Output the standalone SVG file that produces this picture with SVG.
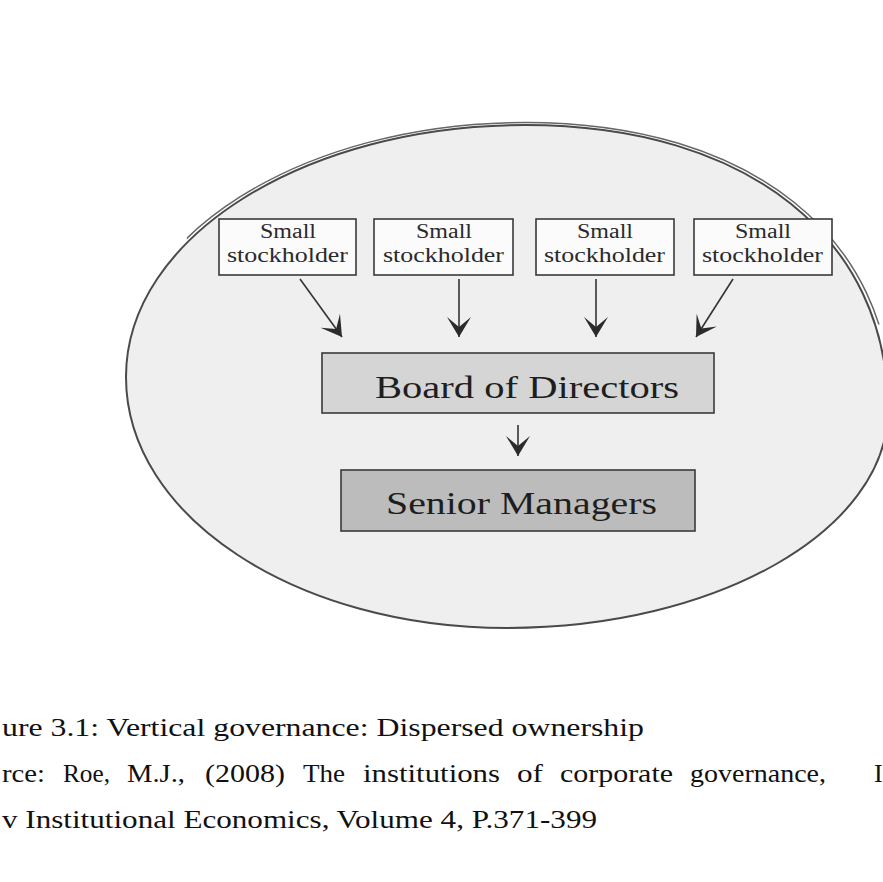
<svg xmlns="http://www.w3.org/2000/svg" width="883" height="882" viewBox="0 0 883 882">
  <style>
    .box { fill: #fbfbfb; stroke: #3a3a3a; stroke-width: 1.6; }
    .board { fill: #d5d5d5; stroke: #3a3a3a; stroke-width: 1.6; }
    .senior { fill: #bcbcbc; stroke: #3a3a3a; stroke-width: 1.6; }
    .small { font-family: "Liberation Serif", "Times New Roman", serif; font-size: 20px; fill: #2a2a2a; }
    .big { font-family: "Liberation Serif", "Times New Roman", serif; font-size: 32px; fill: #1e1e1e; }
    .cap { font-family: "Liberation Serif", "Times New Roman", serif; font-size: 26px; fill: #111; }
    .conn { stroke: #333; stroke-width: 1.6; fill: none; marker-end: url(#arrow); }
  </style>
  <defs>
    <marker id="arrow" markerUnits="userSpaceOnUse" viewBox="-21 -13 22 26" refX="0" refY="0" markerWidth="22" markerHeight="26" orient="auto">
      <path d="M0,0 L-20,-12 L-10,0 L-20,12 Z" fill="#2b2b2b"/>
    </marker>
    <clipPath id="topclip">
      <rect x="190" y="0" width="693" height="325"/>
    </clipPath>
  </defs>
  <rect width="883" height="882" fill="#ffffff"/>

  <g id="ellipse">
    <path d="M126,377 C126,237 305,125 525,125 C750,125 888,240 888,410 C888,530 717,628 507,628 C297,628 126,517 126,377 Z" fill="#efefef" stroke="#4a4a4a" stroke-width="2"/>
    <path d="M126,377 C126,237 305,125 525,125 C750,125 888,240 888,410" fill="none" stroke="#666" stroke-width="1.5" clip-path="url(#topclip)" transform="translate(508,377) scale(1.01) translate(-508,-377)"/>
  </g>

  <g id="stockholder1">
    <rect class="box" x="219" y="219" width="137" height="56"/>
    <text class="small" x="260" y="238" textLength="56" lengthAdjust="spacingAndGlyphs">Small</text>
    <text class="small" x="227" y="262" textLength="121" lengthAdjust="spacingAndGlyphs">stockholder</text>
  </g>
  <g id="stockholder2">
    <rect class="box" x="374" y="219" width="139" height="56"/>
    <text class="small" x="416" y="238" textLength="56" lengthAdjust="spacingAndGlyphs">Small</text>
    <text class="small" x="383" y="262" textLength="121" lengthAdjust="spacingAndGlyphs">stockholder</text>
  </g>
  <g id="stockholder3">
    <rect class="box" x="536" y="219" width="138" height="56"/>
    <text class="small" x="577" y="238" textLength="56" lengthAdjust="spacingAndGlyphs">Small</text>
    <text class="small" x="544" y="262" textLength="121" lengthAdjust="spacingAndGlyphs">stockholder</text>
  </g>
  <g id="stockholder4">
    <rect class="box" x="694" y="219" width="138" height="56"/>
    <text class="small" x="735" y="238" textLength="56" lengthAdjust="spacingAndGlyphs">Small</text>
    <text class="small" x="702" y="262" textLength="121" lengthAdjust="spacingAndGlyphs">stockholder</text>
  </g>

  <g id="board">
    <rect class="board" x="322" y="353" width="392" height="60"/>
    <text class="big" x="375" y="398" textLength="304" lengthAdjust="spacingAndGlyphs">Board of Directors</text>
  </g>

  <g id="senior">
    <rect class="senior" x="341" y="470" width="354" height="61"/>
    <text class="big" x="386" y="514" textLength="271" lengthAdjust="spacingAndGlyphs">Senior Managers</text>
  </g>

  <g id="connectors">
    <line class="conn" x1="300" y1="279" x2="342" y2="337"/>
    <line class="conn" x1="459" y1="279" x2="459" y2="337"/>
    <line class="conn" x1="596" y1="279" x2="596" y2="337"/>
    <line class="conn" x1="733" y1="279" x2="696" y2="337"/>
    <line class="conn" x1="518" y1="425" x2="518" y2="456"/>
  </g>

  <g id="caption">
    <text class="cap" x="2" y="736" textLength="642" lengthAdjust="spacingAndGlyphs">ure 3.1: Vertical governance: Dispersed ownership</text>
    <text class="cap" y="782">
      <tspan x="2" textLength="43" lengthAdjust="spacingAndGlyphs">rce:</tspan>
      <tspan x="63" textLength="47" lengthAdjust="spacingAndGlyphs">Roe,</tspan>
      <tspan x="127" textLength="58" lengthAdjust="spacingAndGlyphs">M.J.,</tspan>
      <tspan x="205" textLength="80" lengthAdjust="spacingAndGlyphs">(2008)</tspan>
      <tspan x="303" textLength="42" lengthAdjust="spacingAndGlyphs">The</tspan>
      <tspan x="363" textLength="137" lengthAdjust="spacingAndGlyphs">institutions</tspan>
      <tspan x="517" textLength="26" lengthAdjust="spacingAndGlyphs">of</tspan>
      <tspan x="560" textLength="113" lengthAdjust="spacingAndGlyphs">corporate</tspan>
      <tspan x="690" textLength="136" lengthAdjust="spacingAndGlyphs">governance,</tspan>
      <tspan x="874">I</tspan>
    </text>
    <text class="cap" x="2" y="828" textLength="595" lengthAdjust="spacingAndGlyphs">v Institutional Economics, Volume 4, P.371-399</text>
  </g>
</svg>
